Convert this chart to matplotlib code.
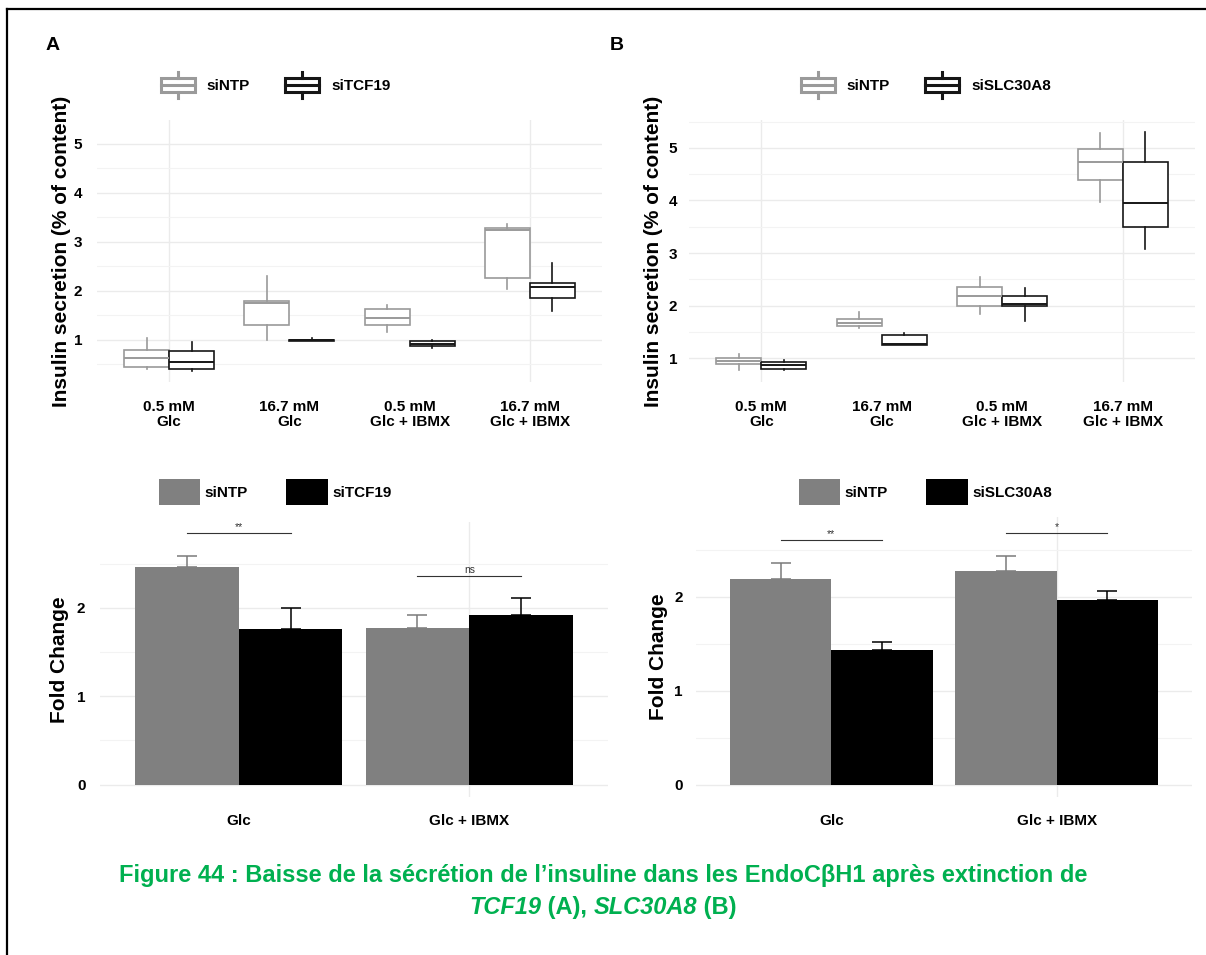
import matplotlib
matplotlib.use('Agg')
import matplotlib.pyplot as plt
import numpy as np
from matplotlib.lines import Line2D
from matplotlib.patches import Rectangle, Patch
from matplotlib.legend_handler import HandlerBase
from matplotlib.ticker import MultipleLocator

plt.rcParams['font.family'] = ['Liberation Sans', 'DejaVu Sans']

# ---- data ----
box_cats = ['0.5 mM\nGlc', '16.7 mM\nGlc', '0.5 mM\nGlc + IBMX', '16.7 mM\nGlc + IBMX']

# panel A, insulin secretion (% of content)
a_ntp_lo = [0.40, 0.99, 1.16, 2.03]
a_ntp_q1 = [0.45, 1.31, 1.31, 2.26]
a_ntp_med = [0.63, 1.75, 1.44, 3.24]
a_ntp_q3 = [0.80, 1.80, 1.63, 3.29]
a_ntp_hi = [1.03, 2.31, 1.71, 3.36]

a_tcf_lo = [0.37, 0.97, 0.84, 1.60]
a_tcf_q1 = [0.40, 0.98, 0.88, 1.86]
a_tcf_med = [0.54, 0.99, 0.92, 2.07]
a_tcf_q3 = [0.78, 1.00, 0.97, 2.17]
a_tcf_hi = [0.95, 1.03, 0.99, 2.56]

# panel B
b_ntp_lo = [0.77, 1.58, 1.85, 3.97]
b_ntp_q1 = [0.89, 1.62, 2.00, 4.39]
b_ntp_med = [0.95, 1.67, 2.18, 4.73]
b_ntp_q3 = [1.01, 1.74, 2.36, 4.98]
b_ntp_hi = [1.09, 1.88, 2.55, 5.28]

b_slc_lo = [0.77, 1.25, 1.71, 3.08]
b_slc_q1 = [0.80, 1.25, 1.99, 3.49]
b_slc_med = [0.88, 1.28, 2.04, 3.96]
b_slc_q3 = [0.93, 1.44, 2.19, 4.73]
b_slc_hi = [0.96, 1.48, 2.34, 5.31]

# fold change bars
bar_cats = ['Glc', 'Glc + IBMX']
a_fc_ntp = [2.46, 1.77]
a_fc_ntp_sd = [0.13, 0.15]
a_fc_tcf = [1.76, 1.92]
a_fc_tcf_sd = [0.24, 0.19]
a_sig = ['**', 'ns']
a_sig_y = [2.85, 2.36]

b_fc_ntp = [2.19, 2.28]
b_fc_ntp_sd = [0.17, 0.15]
b_fc_slc = [1.43, 1.97]
b_fc_slc_sd = [0.09, 0.09]
b_sig = ['**', '*']
b_sig_y = [2.61, 2.68]

W, H = 1206, 955
GREY = '#9a9a9a'
DARK = '#161616'
GRID = '#ebebeb'


def px(x0, y0, x1, y1):
    return [x0 / W, 1 - y1 / H, (x1 - x0) / W, (y1 - y0) / H]


class BoxKey(HandlerBase):
    def create_artists(self, legend, orig_handle, xdescent, ydescent,
                       width, height, fontsize, trans):
        c = orig_handle.get_color()
        x0, y0 = -xdescent, -ydescent
        lw = 2.2
        box = Rectangle((x0, y0 + 0.25 * height), width, 0.5 * height,
                        facecolor='white', edgecolor=c, lw=lw, transform=trans)
        med = Line2D([x0, x0 + width], [y0 + 0.5 * height] * 2, color=c, lw=lw, transform=trans)
        top = Line2D([x0 + width / 2] * 2, [y0 + 0.75 * height, y0 + height], color=c, lw=lw, transform=trans)
        bot = Line2D([x0 + width / 2] * 2, [y0, y0 + 0.25 * height], color=c, lw=lw, transform=trans)
        return [box, med, top, bot]


def clean(ax, pad_y):
    for s in ax.spines.values():
        s.set_visible(False)
    ax.tick_params(length=0, labelsize=11)
    ax.tick_params(axis='y', pad=pad_y)
    ax.yaxis.set_major_locator(MultipleLocator(1))
    ax.yaxis.set_minor_locator(MultipleLocator(0.5))
    ax.tick_params(which='minor', length=0)
    ax.grid(which='major', axis='y', color=GRID, lw=1.0)
    ax.grid(which='minor', axis='y', color='#f3f3f3', lw=0.8)
    ax.set_axisbelow(True)
    for t in ax.get_yticklabels():
        t.set_fontweight('bold')


def box_panel(rect, series, colors, ylim, vlines, pad_y, lab_x):
    ax = fig.add_axes(px(*rect))
    pos = np.arange(1, 5)
    for (lo, q1, med, q3, hi), col, off in zip(series, colors, [-0.1875, 0.1875]):
        stats = [dict(whislo=a, q1=b, med=c, q3=d, whishi=e) for a, b, c, d, e in zip(lo, q1, med, q3, hi)]
        ax.bxp(stats, positions=pos + off, widths=0.375, showfliers=False, showcaps=False,
               patch_artist=True, manage_ticks=False,
               boxprops=dict(facecolor='white', edgecolor=col, lw=1.2),
               medianprops=dict(color=col, lw=1.4),
               whiskerprops=dict(color=col, lw=1.2))
    for v in vlines:
        ax.axvline(v, color=GRID, lw=1.0, zorder=0)
    ax.set_xlim(0.4, 4.6)
    ax.set_ylim(*ylim)
    ax.set_xticks(pos)
    ax.set_xticklabels(box_cats, fontsize=11, fontweight='bold', linespacing=1.05)
    ax.tick_params(axis='x', pad=13)
    clean(ax, pad_y)
    ax.set_ylabel('Insulin secretion (% of content)', fontsize=15, fontweight='bold')
    ax.yaxis.set_label_coords(lab_x, 0.5)
    return ax


def bar_panel(rect, ntp, ntp_sd, other, other_sd, sig, sig_y, ylim, pad_y, lab_x):
    ax = fig.add_axes(px(*rect))
    x = np.arange(1, 3)
    ax.bar(x - 0.225, ntp, width=0.45, color='#808080', zorder=2)
    ax.bar(x + 0.225, other, width=0.45, color='black', zorder=2)
    ax.errorbar(x - 0.225, ntp, yerr=[np.zeros(2), ntp_sd], fmt='none', ecolor='#7a7a7a',
                capsize=7.5, elinewidth=1.1, capthick=1.1, zorder=1)
    ax.errorbar(x + 0.225, other, yerr=[np.zeros(2), other_sd], fmt='none', ecolor='black',
                capsize=7.5, elinewidth=1.1, capthick=1.1, zorder=1)
    for c, s, h in zip(x, sig, sig_y):
        ax.plot([c - 0.225, c + 0.225], [h, h], color='#333333', lw=0.8)
        ax.text(c, h + 0.01, s, ha='center', va='bottom', fontsize=7.5, color='#333333')
    ax.axvline(2, color=GRID, lw=1.0, zorder=0)
    ax.set_xlim(0.4, 2.6)
    ax.set_ylim(*ylim)
    ax.set_xticks(x)
    ax.set_xticklabels(bar_cats, fontsize=10, fontweight='bold')
    ax.tick_params(axis='x', pad=12)
    clean(ax, pad_y)
    ax.set_ylabel('Fold Change', fontsize=15, fontweight='bold')
    ax.yaxis.set_label_coords(lab_x, 0.5)
    return ax


fig = plt.figure(figsize=(W / 100, H / 100), dpi=100)

box_panel((97, 120, 602, 382),
          [(a_ntp_lo, a_ntp_q1, a_ntp_med, a_ntp_q3, a_ntp_hi),
           (a_tcf_lo, a_tcf_q1, a_tcf_med, a_tcf_q3, a_tcf_hi)],
          [GREY, DARK], (0.14, 5.49), [1, 4], 10.5, -0.051)
box_panel((689, 120, 1195, 382),
          [(b_ntp_lo, b_ntp_q1, b_ntp_med, b_ntp_q3, b_ntp_hi),
           (b_slc_lo, b_slc_q1, b_slc_med, b_slc_q3, b_slc_hi)],
          [GREY, DARK], (0.55, 5.53), [1, 4], 8.5, -0.051)

bar_panel((100, 522, 608, 797), a_fc_ntp, a_fc_ntp_sd, a_fc_tcf, a_fc_tcf_sd,
          a_sig, a_sig_y, (-0.14, 2.97), 10.5, -0.061)
bar_panel((696, 517, 1192, 797), b_fc_ntp, b_fc_ntp_sd, b_fc_slc, b_fc_slc_sd,
          b_sig, b_sig_y, (-0.13, 2.85), 9.5, -0.056)

# legends
leg_font = dict(weight='bold', size=11)
for x0, name in [(161, 'siTCF19'), (801, 'siSLC30A8')]:
    fig.legend(handles=[Line2D([], [], color=GREY), Line2D([], [], color=DARK)],
               labels=['siNTP', name], handler_map={Line2D: BoxKey()}, ncol=2,
               frameon=False, loc='center left', bbox_to_anchor=(x0 / W, 1 - 85 / H),
               borderpad=0, borderaxespad=0, handlelength=2.2, handleheight=2.3,
               handletextpad=0.8, columnspacing=2.3, prop=leg_font)
for x0, name in [(159, 'siTCF19'), (799, 'siSLC30A8')]:
    fig.legend(handles=[Patch(facecolor='#808080'), Patch(facecolor='black')],
               labels=['siNTP', name], ncol=2, frameon=False, loc='center left',
               bbox_to_anchor=(x0 / W, 1 - 492 / H), borderpad=0, borderaxespad=0,
               handlelength=2.7, handleheight=2.2, handletextpad=0.3,
               columnspacing=2.5, prop=leg_font)

fig.text(46 / W, 1 - 45 / H, 'A', fontsize=14, fontweight='bold', va='center')
fig.text(610 / W, 1 - 45 / H, 'B', fontsize=14, fontweight='bold', va='center')

# caption
green = '#00B050'
fig.text(0.5, 1 - 875 / H,
         'Figure 44 : Baisse de la sécrétion de l\u2019insuline dans les EndoC\u03b2H1 après extinction de',
         ha='center', va='center', fontsize=17, fontweight='bold', color=green)
parts = [('TCF19', 'italic'), (' (A), ', 'normal'), ('SLC30A8', 'italic'), (' (B)', 'normal')]
renderer = fig.canvas.get_renderer()
texts = [fig.text(0, 1 - 907 / H, s, fontsize=17, fontweight='bold', style=st,
                  color=green, va='center') for s, st in parts]
widths = [t.get_window_extent(renderer).width for t in texts]
x = (W - sum(widths)) / 2
for t, w in zip(texts, widths):
    t.set_x(x / W)
    x += w

# frame
fig.add_artist(Line2D([7 / W, 1], [1 - 9 / H] * 2, color='black', lw=1.6))
fig.add_artist(Line2D([7 / W] * 2, [0, 1 - 9 / H], color='black', lw=1.6))

fig.savefig('out.png', dpi=100)
